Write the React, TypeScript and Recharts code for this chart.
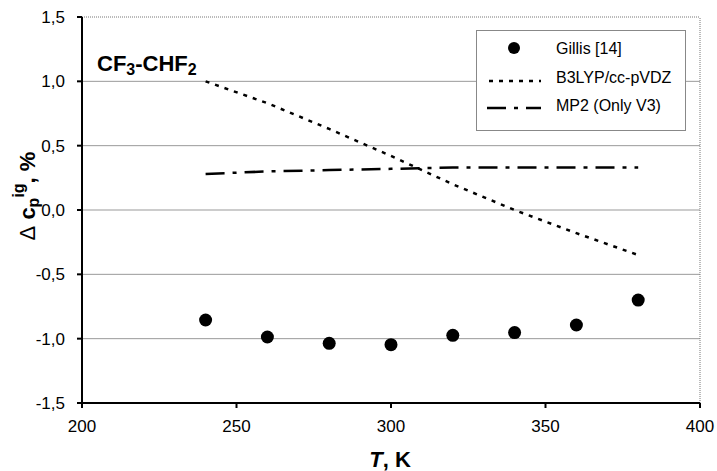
import React from "react";
import {
  ComposedChart,
  Line,
  Scatter,
  XAxis,
  YAxis,
  ReferenceLine,
  Label,
} from "recharts";

const temps = [240, 260, 280, 300, 320, 340, 360, 380];
const gillis = [-0.855, -0.987, -1.036, -1.047, -0.974, -0.953, -0.894, -0.7];
const b3lyp = [1.0, 0.83, 0.63, 0.42, 0.2, 0.0, -0.18, -0.35];
const mp2 = [0.28, 0.3, 0.31, 0.32, 0.33, 0.33, 0.33, 0.33];
const xTicks = [200, 250, 300, 350, 400];
const yTicks = [-1.5, -1.0, -0.5, 0.0, 0.5, 1.0, 1.5];
const gridValues = [-1.0, -0.5, 0.0, 0.5, 1.0];
const legendItems = ["Gillis [14]", "B3LYP/cc-pVDZ", "MP2 (Only V3)"];

const data = temps.map((T, i) => ({ T, gillis: gillis[i], b3lyp: b3lyp[i], mp2: mp2[i] }));

const FONT = "Arial, 'Liberation Sans', sans-serif";

const fmt = (v: number) => v.toFixed(1).replace(".", ",");

const YLabel = (props: any) => {
  const vb = props.viewBox || {};
  const cx = 35;
  const cy = vb.y + vb.height / 2 - 14;
  return (
    <text
      transform={`rotate(-90, ${cx}, ${cy})`}
      x={cx}
      y={cy}
      textAnchor="middle"
      fontFamily={FONT}
      fontWeight="bold"
      fontSize={22}
      fill="#000"
    >
      <tspan fontWeight="normal">Δ</tspan>
      <tspan> c</tspan>
      <tspan fontSize={16} dy={4}>p</tspan>
      <tspan fontSize={16} dy={-15}>ig</tspan>
      <tspan dy={11}>, %</tspan>
    </text>
  );
};

const XLabel = (props: any) => {
  const vb = props.viewBox || {};
  const cx = vb.x + vb.width / 2 - 1;
  return (
    <text x={cx} y={467} textAnchor="middle" fontFamily={FONT} fontWeight="bold" fontSize={22} fill="#000">
      <tspan fontStyle="italic">T</tspan>
      <tspan>, K</tspan>
    </text>
  );
};

const LegendBox = () => (
  <div
    style={{
      position: "absolute",
      left: 476,
      top: 30,
      width: 210,
      height: 101,
      border: "1px solid #888",
      background: "#fff",
      boxSizing: "border-box",
    }}
  >
    <svg width={208} height={99} style={{ position: "absolute", left: 0, top: 0 }}>
      <circle cx={37} cy={17} r={6} fill="#000" />
      <line x1={12} x2={64} y1={50} y2={50} stroke="#000" strokeWidth={2.5} strokeDasharray="4 6" />
      <line x1={10} x2={64} y1={77} y2={77} stroke="#000" strokeWidth={2.5} strokeDasharray="19 8 4 8" />
      {legendItems.map((t, i) => (
        <text key={t} x={79} y={23 + i * 28.5} fontFamily={FONT} fontSize={16} fill="#000">
          {t}
        </text>
      ))}
    </svg>
  </div>
);

export default function App() {
  return (
    <div style={{ position: "absolute", left: 0, top: 0, width: 717, height: 471, background: "#fff" }}>
      <ComposedChart
        width={717}
        height={471}
        data={data}
        margin={{ top: 17, right: 17, bottom: 0, left: 0 }}
      >
        {gridValues.map((v) => (
          <ReferenceLine key={v} y={v} stroke="#999" strokeWidth={1} />
        ))}
        <ReferenceLine y={1.5} stroke="#777" strokeWidth={1} strokeDasharray="1 1" />
        <ReferenceLine x={400} stroke="#777" strokeWidth={1} strokeDasharray="1 1" />
        <XAxis
          dataKey="T"
          type="number"
          domain={[200, 400]}
          ticks={xTicks}
          height={68}
          tickSize={5}
          axisLine={{ stroke: "#000", strokeWidth: 2 }}
          tickLine={{ stroke: "#000", strokeWidth: 2 }}
          tick={{ fill: "#000", fontSize: 17, fontFamily: FONT }}
          tickMargin={12}
        >
          <Label content={XLabel} />
        </XAxis>
        <YAxis
          type="number"
          domain={[-1.5, 1.5]}
          ticks={yTicks}
          width={82}
          tickSize={5}
          tickFormatter={fmt}
          axisLine={{ stroke: "#000", strokeWidth: 2 }}
          tickLine={{ stroke: "#000", strokeWidth: 2 }}
          tick={{ fill: "#000", fontSize: 17, fontFamily: FONT }}
          tickMargin={12}
          allowDataOverflow
        >
          <Label content={YLabel} />
        </YAxis>
        <Line
          dataKey="b3lyp"
          stroke="#000"
          strokeWidth={2.5}
          strokeDasharray="4 6"
          dot={false}
          isAnimationActive={false}
          type="linear"
        />
        <Line
          dataKey="mp2"
          stroke="#000"
          strokeWidth={2.5}
          strokeDasharray="19 8 4 8"
          dot={false}
          isAnimationActive={false}
          type="linear"
        />
        <Scatter
          dataKey="gillis"
          fill="#000"
          isAnimationActive={false}
          shape={(p: any) => <circle cx={p.cx} cy={p.cy} r={6.5} fill="#000" />}
        />
        <text x={97} y={71} fontFamily={FONT} fontWeight="bold" fontSize={22} fill="#000">
          <tspan>CF</tspan>
          <tspan fontSize={16} dy={4}>3</tspan>
          <tspan dy={-4}>-CHF</tspan>
          <tspan fontSize={16} dy={4}>2</tspan>
        </text>
      </ComposedChart>
      <LegendBox />
    </div>
  );
}
